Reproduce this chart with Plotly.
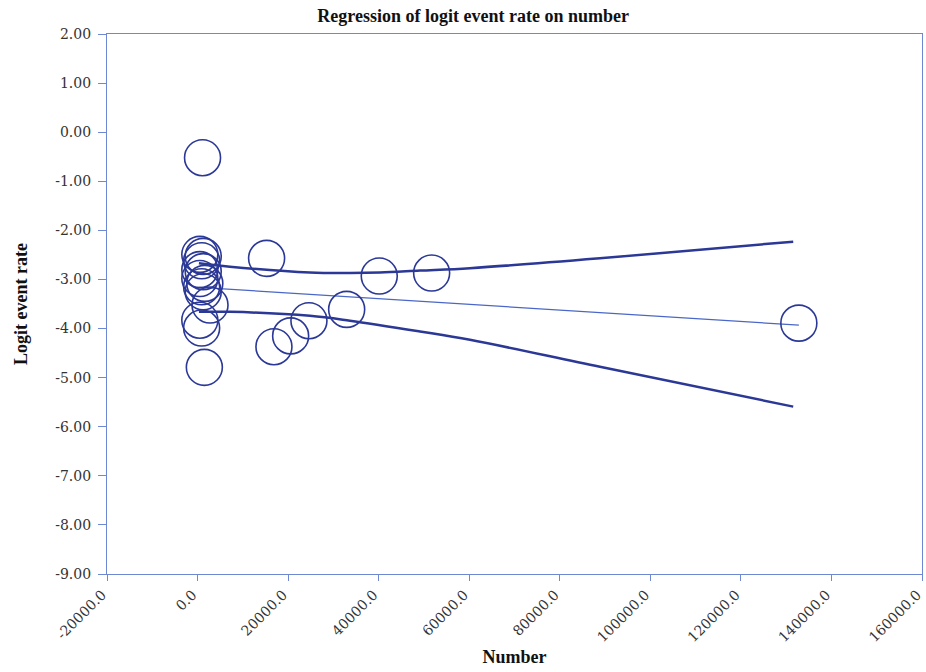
import plotly.graph_objects as go

# Study-level points: number of subjects vs logit event rate
number = [1100, 500, 1250, 900, 500, 1250, 500, 1600, 900, 1250, 2750, 500, 900, 1500,
          15250, 40130, 51700, 32930, 24600, 20560, 16870, 132800]
logit_rate = [-0.52, -2.49, -2.53, -2.62, -2.80, -2.84, -2.98, -3.08, -3.15, -3.25, -3.52,
              -3.83, -3.99, -4.79,
              -2.57, -2.93, -2.87, -3.61, -3.84, -4.15, -4.37, -3.89]

# Fitted regression line
fit_x = [300, 132800]
fit_y = [-3.16, -3.93]

# Confidence band around the fit
ci_x = [300, 7150, 24820, 33660, 40290, 49120, 60160, 88870, 131560]
ci_upper = [-2.67, -2.74, -2.86, -2.87, -2.86, -2.82, -2.77, -2.57, -2.23]
ci_x_low = [300, 7150, 24820, 33660, 49120, 60160, 88870, 131560]
ci_lower = [-3.66, -3.66, -3.74, -3.84, -4.06, -4.23, -4.78, -5.59]

x_ticks = [-20000, 0, 20000, 40000, 60000, 80000, 100000, 120000, 140000, 160000]
x_tick_text = ["-20000.0", "0.0", "20000.0", "40000.0", "60000.0", "80000.0",
               "100000.0", "120000.0", "140000.0", "160000.0"]
y_ticks = [2, 1, 0, -1, -2, -3, -4, -5, -6, -7, -8, -9]
y_tick_text = ["2.00", "1.00", "0.00", "-1.00", "-2.00", "-3.00", "-4.00", "-5.00",
               "-6.00", "-7.00", "-8.00", "-9.00"]

dark_blue = "#2b3896"
frame_blue = "#6f88d4"
serif = "Liberation Serif, DejaVu Serif, serif"
tick_font = dict(family="DejaVu Serif, serif", size=14, color="#333333")

fig = go.Figure()
fig.add_trace(go.Scatter(x=ci_x, y=ci_upper, mode="lines", line_shape="spline",
                         line=dict(color=dark_blue, width=2.5), hoverinfo="skip"))
fig.add_trace(go.Scatter(x=ci_x_low, y=ci_lower, mode="lines", line_shape="spline",
                         line=dict(color=dark_blue, width=2.5), hoverinfo="skip"))
fig.add_trace(go.Scatter(x=fit_x, y=fit_y, mode="lines",
                         line=dict(color="#4a67c8", width=1.2), hoverinfo="skip"))
fig.add_trace(go.Scatter(x=number, y=logit_rate, mode="markers",
                         marker=dict(symbol="circle-open", size=36,
                                     line=dict(color=dark_blue, width=1.6),
                                     color=dark_blue)))

fig.update_layout(
    width=926, height=672,
    margin=dict(l=107, r=4, t=34, b=98),
    paper_bgcolor="white", plot_bgcolor="white",
    showlegend=False,
    font=dict(family=serif, size=15, color="#222222"),
    title=dict(text="<b>Regression of logit event rate on number</b>",
               x=0.511, xref="container", xanchor="center",
               y=0.976, yref="container", yanchor="middle",
               font=dict(family=serif, size=18, color="#111111")),
)
fig.update_xaxes(
    range=[-20000, 160000], tickvals=x_ticks, ticktext=x_tick_text, tickangle=-45,
    ticklabeloverflow="allow", automargin=False, ticklabelshift=-5,
    showgrid=False, zeroline=False,
    showline=True, mirror=True, linecolor=frame_blue, linewidth=1.2,
    ticks="outside", ticklen=6, tickcolor=frame_blue, tickwidth=1.2,
    tickfont=tick_font,
    title=dict(text="<b>Number</b>", standoff=6,
               font=dict(family=serif, size=18, color="#111111")),
)
fig.update_yaxes(
    range=[-9, 2], tickvals=y_ticks, ticktext=y_tick_text, automargin=False,
    showgrid=False, zeroline=False,
    showline=True, mirror=True, linecolor=frame_blue, linewidth=1.2,
    ticks="outside", ticklen=8, tickcolor=frame_blue, tickwidth=1.2,
    tickfont=tick_font, ticklabelstandoff=4,
    title=dict(text="<b>Logit event rate</b>", standoff=22,
               font=dict(family=serif, size=18, color="#111111")),
)

fig.write_html("out.html")
